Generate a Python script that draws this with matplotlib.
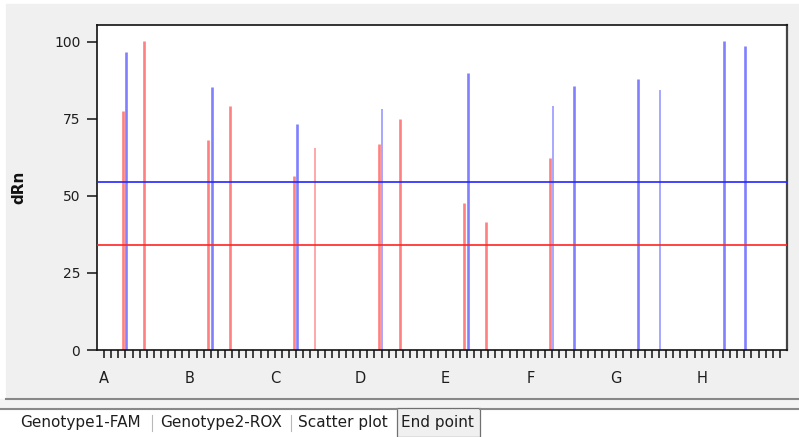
#!/usr/bin/env python3
"""End point plot: FAM / ROX dRn per well with threshold lines."""

import matplotlib.pyplot as plt
from matplotlib.lines import Line2D
from matplotlib.patches import Rectangle

# --- data ---
row_labels = ["A", "B", "C", "D", "E", "F", "G", "H"]
wells = ["A4", "A7", "B4", "B7", "C4", "C7", "D4", "D7",
         "E4", "E7", "F4", "F7", "G4", "G7", "H4", "H7"]
fam_drn = [96.8, 0, 85.4, 0, 73.5, 0, 78.2, 0,
           90.0, 0, 79.1, 85.8, 88.0, 84.3, 100.3, 98.8]
rox_drn = [77.6, 100.3, 68.3, 79.1, 56.4, 65.7, 66.8, 75.1,
           47.6, 41.4, 62.2, 0, 0, 0, 0, 0]
fam_faint = ["D4", "F4", "G7"]
rox_faint = ["C7"]
fam_threshold = 54.6
rox_threshold = 34.05
y_ticks = [0, 25, 50, 75, 100]
tab_names = ["Genotype1-FAM", "Genotype2-ROX", "Scatter plot", "End point"]

W, H = 799, 437
fig = plt.figure(figsize=(W / 100, H / 100), dpi=100, facecolor="white")


def fx(px):
    return px / W


def fy(py):
    return 1 - py / H


# grey window panel + bottom separators
fig.patches.append(Rectangle((fx(6), fy(398)), fx(793), 394 / H,
                             transform=fig.transFigure, color="#f0f0f0", zorder=-2))
fig.patches.append(Rectangle((0, fy(408)), 1, 9 / H,
                             transform=fig.transFigure, color="#f4f4f4", zorder=-2))
fig.lines.append(Line2D([fx(6), 1], [fy(398.5)] * 2, transform=fig.transFigure,
                        color="#888888", lw=1.5))
fig.lines.append(Line2D([0, fx(397)], [fy(408.8)] * 2, transform=fig.transFigure,
                        color="#8a8a8a", lw=1.5))
fig.lines.append(Line2D([fx(480), 1], [fy(408.8)] * 2, transform=fig.transFigure,
                        color="#8a8a8a", lw=1.5))

# selected tab box
fig.patches.append(Rectangle((fx(397), 0), fx(83), 29.5 / H,
                             transform=fig.transFigure, facecolor="#f0f0f0",
                             edgecolor="#707070", lw=0.9, zorder=1))

# tab labels
tab_x = [20, 160, 298, 401]
for name, x in zip(tab_names, tab_x):
    fig.text(fx(x), fy(423), name, ha="left", va="center", fontsize=11,
             color="#1e1e1e", zorder=3)
for x in [152, 291]:
    fig.lines.append(Line2D([fx(x)] * 2, [fy(415), fy(431)], transform=fig.transFigure,
                            color="#b8b8b8", lw=0.8))

# --- main axes ---
ax = fig.add_axes([fx(97), fy(350), fx(690), 325 / H], zorder=1)
ax.set_facecolor("white")

for i, well in enumerate(wells):
    pos = row_labels.index(well[0]) * 12 + int(well[1:]) - 1
    if rox_drn[i] > 0:
        faint = well in rox_faint
        ax.vlines(pos - 0.35, 0, rox_drn[i], color="#ff9a9a" if faint else "#ff8080",
                  lw=1.2 if faint else 1.9, zorder=2)
    if fam_drn[i] > 0:
        faint = well in fam_faint
        ax.vlines(pos + 0.1, 0, fam_drn[i], color="#9898ff" if faint else "#8080ff",
                  lw=1.2 if faint else 1.9, zorder=2)

# threshold lines
ax.axhline(fam_threshold, color="#2424ff", lw=1.2, zorder=3)
ax.axhline(rox_threshold, color="#ff2424", lw=1.2, zorder=3)

ax.set_xlim(-1, 96)
ax.set_ylim(0, 105.5)
ax.set_yticks(y_ticks)
ax.set_xticks(range(0, 96, 12))
ax.set_xticklabels(row_labels)
ax.set_xticks(range(96), minor=True)

ax.tick_params(axis="x", which="both", length=6, width=1.1, direction="out",
               color="#111111")
ax.tick_params(axis="x", which="major", labelsize=10.5, pad=9, labelcolor="#1e1e1e")
ax.tick_params(axis="y", length=7, width=1.1, pad=5, labelsize=10,
               labelcolor="#1e1e1e", color="#111111")

for side in ["left", "bottom", "top"]:
    ax.spines[side].set_color("#111111")
    ax.spines[side].set_linewidth(1.2)
ax.spines["right"].set_color("#444444")
ax.spines["right"].set_linewidth(1.6)

ax.set_ylabel("dRn", fontsize=11, fontweight="bold", color="#111111")
ax.yaxis.set_label_coords(-0.103, 0.5)

plt.savefig("out.png", dpi=100)
